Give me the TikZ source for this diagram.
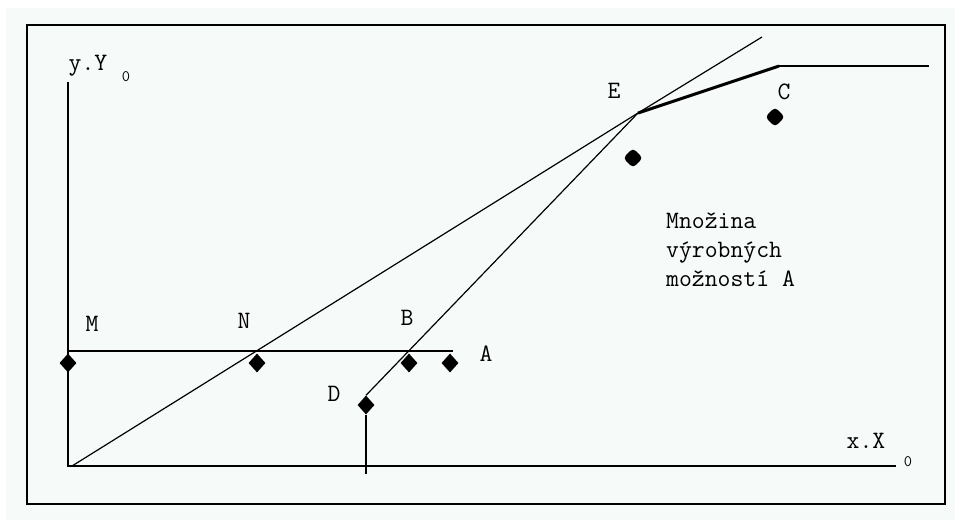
\documentclass[tikz,border=0pt]{standalone}
\usepackage{fontspec}
\usetikzlibrary{shapes.geometric}
\definecolor{paper}{RGB}{246,250,248}

\begin{document}
\begin{tikzpicture}[
  x=1pt, y=-1pt,
  font=\ttfamily\fontsize{25}{29}\selectfont,
  dot/.style={diamond, fill=black, inner sep=0pt, minimum width=17pt, minimum height=19pt},
  blob/.style={dot, rounded corners=4pt, minimum width=20pt, minimum height=20pt},
  axisline/.style={line width=2pt},
  ray/.style={line width=1.2pt},
  bold/.style={line width=3pt},
  lbl/.style={inner sep=0pt},
  sub/.style={inner sep=0pt, font=\ttfamily\fontsize{16}{18}\selectfont}
]
\useasboundingbox (0,0) rectangle (955,520);
\fill[white] (0,0) rectangle (955,520);
\fill[paper] (6,8) rectangle (955,520);
\draw[axisline] (27,25) rectangle (945,504);

% axes
\coordinate (o) at (68,466);
\coordinate (ytop) at (68,82);
\coordinate (xend) at (896,466);
\draw[axisline] (ytop) -- (o) -- (xend);
\node[lbl] (ylab) at (88,66) {y.Y};
\node[sub] (ysub) at (126,77) {0};
\node[lbl] (xlab) at (866,441) {x.X};
\node[sub] (xsub) at (908,462) {0};

% points
\node[dot] (m) at (68,363) {};
\node[dot] (n) at (257,363) {};
\node[dot] (b) at (409,363) {};
\node[dot] (a) at (450,363) {};
\node[dot] (d) at (366,405) {};
\node[blob] (e2) at (633,158) {};
\node[blob] (c) at (775,117) {};

\node[lbl] (mlab) at (92,324) {M};
\node[lbl] (nlab) at (244,321) {N};
\node[lbl] (blab) at (407,318) {B};
\node[lbl] (alab) at (486,354) {A};
\node[lbl] (dlab) at (334,394) {D};
\node[lbl] (elab) at (614,91) {E};
\node[lbl] (clab) at (784,92) {C};

% lines
\coordinate (ml) at (68,351);
\coordinate (ar) at (453,351);
\coordinate (o2) at (72,466);
\coordinate (e) at (638,113);
\coordinate (rayend) at (762,37);
\coordinate (k) at (779,66);
\coordinate (kend) at (929,66);
\coordinate (dfoot) at (366,474);
\draw[axisline] (ml) -- (ar);
\draw[ray] (o2) -- (e) -- (rayend);
\draw[ray] (d.north) -- (e);
\draw[axisline] (d.south) -- (dfoot);
\draw[bold] (e) -- (k);
\draw[axisline] (k) -- (kend);

\node[lbl, anchor=west, align=left] (set) at (666,250) {Množina\\výrobných\\možností A};
\end{tikzpicture}
\end{document}
